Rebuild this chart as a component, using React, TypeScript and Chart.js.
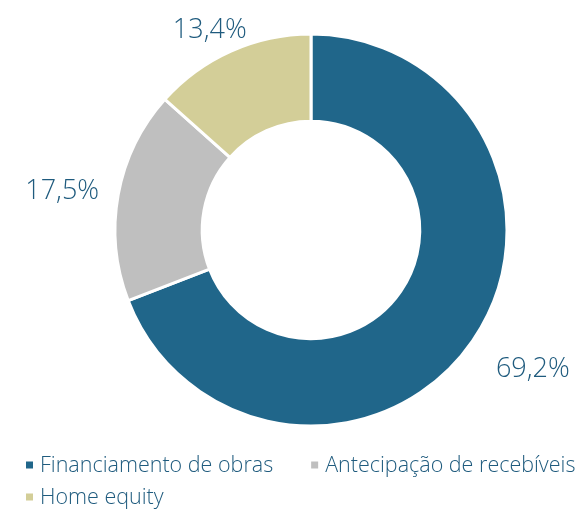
import React, { useEffect, useRef } from 'react';
import { Chart, registerables } from 'chart.js';

Chart.register(...registerables);

const categories = ['Financiamento de obras', 'Antecipação de recebíveis', 'Home equity'];
const shares = [69.2, 17.5, 13.4];
const valueLabels = ['69,2%', '17,5%', '13,4%'];
const colors = ['#20668A', '#BFBFBF', '#D3CE98'];

const TEXT_COLOR = '#1F5B7E';
const FONT_FAMILY = '"Open Sans", Lato, sans-serif';
const W = 586;
const H = 509;

const valueLabelPlugin = {
  id: 'valueLabels',
  afterDatasetsDraw(chart: any) {
    const ctx = chart.ctx;
    const meta = chart.getDatasetMeta(0);
    const gaps = [36, 20, 15];
    ctx.save();
    ctx.font = `300 27px ${FONT_FAMILY}`;
    ctx.fillStyle = TEXT_COLOR;
    ctx.textAlign = 'left';
    ctx.textBaseline = 'alphabetic';
    meta.data.forEach((arc: any, i: number) => {
      const p = arc.getProps(['x', 'y', 'startAngle', 'endAngle', 'outerRadius'], true);
      const mid = (p.startAngle + p.endAngle) / 2;
      const c = Math.cos(mid);
      const s = Math.sin(mid);
      const r = p.outerRadius + gaps[i];
      const ax = p.x + c * r;
      const ay = p.y + s * r;
      const text = valueLabels[i];
      const m = ctx.measureText(text);
      const w = m.width;
      const capH = m.actualBoundingBoxAscent;
      const left = ax - (w * (1 - c)) / 2;
      const top = ay - (capH * (1 - s)) / 2;
      ctx.fillText(text, left, top + capH);
    });
    ctx.restore();
  },
};

const legendPlugin = {
  id: 'customLegend',
  afterDraw(chart: any) {
    const ctx = chart.ctx;
    const area = chart.chartArea;
    const startX = 26;
    const box = 7;
    const textGap = 14;
    const itemGap = 38;
    const rowH = 32;
    const firstRowY = area.bottom + 37.5;
    ctx.save();
    ctx.font = `300 21.5px ${FONT_FAMILY}`;
    ctx.textBaseline = 'middle';
    ctx.textAlign = 'left';
    let x = startX;
    let row = 0;
    categories.forEach((label, i) => {
      const tw = ctx.measureText(label).width;
      const itemW = textGap + tw;
      if (x > startX && x + itemW > chart.width) {
        row += 1;
        x = startX;
      }
      const cy = firstRowY + row * rowH;
      ctx.fillStyle = colors[i];
      ctx.fillRect(x, cy - box / 2, box, box);
      ctx.fillStyle = TEXT_COLOR;
      ctx.fillText(label, x + textGap, cy + 1);
      x += itemW + itemGap;
    });
    ctx.restore();
  },
};

export default function App() {
  const canvasRef = useRef<HTMLCanvasElement | null>(null);

  useEffect(() => {
    document.body.style.margin = '0';
    const canvas = canvasRef.current;
    if (!canvas) return;
    const chart = new Chart(canvas, {
      type: 'doughnut',
      data: {
        labels: categories,
        datasets: [
          {
            data: shares,
            backgroundColor: colors,
            borderColor: '#FFFFFF',
            borderWidth: 3,
            hoverOffset: 0,
            offset: 0,
          },
        ],
      },
      options: {
        responsive: false,
        animation: false,
        cutout: '55.5%',
        rotation: 0,
        layout: {
          padding: { left: 113.5, top: 32.5, right: 77.5, bottom: 81.5 },
        },
        plugins: {
          legend: { display: false },
          tooltip: { enabled: false },
        },
      },
      plugins: [valueLabelPlugin, legendPlugin],
    });
    return () => chart.destroy();
  }, []);

  return (
    <div style={{ position: 'absolute', left: 0, top: 0, width: W, height: H, background: '#FFFFFF' }}>
      <canvas ref={canvasRef} width={W} height={H} style={{ width: W, height: H, display: 'block' }} />
    </div>
  );
}
